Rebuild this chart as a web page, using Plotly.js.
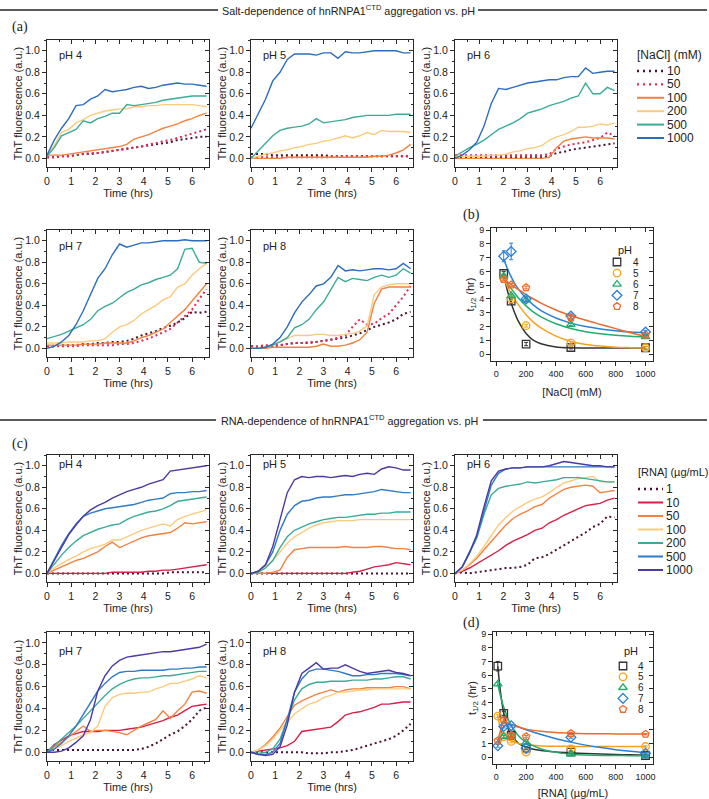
<!DOCTYPE html>
<html><head><meta charset="utf-8">
<script src="https://cdn.plot.ly/plotly-3.0.1.min.js"></script>
<style>html,body{margin:0;padding:0;background:#fff}</style>
</head><body><div id="chart" style="width:709px;height:799px"></div>
<script>
// ---------------- DATA ----------------
const T = [0,0.3,0.6,0.9,1.2,1.5,1.8,2.1,2.4,2.7,3.0,3.3,3.6,3.9,4.2,4.5,4.8,5.1,5.4,5.7,6.0,6.3,6.6];
const naclLevels = ['10','50','100','200','500','1000'];
const rnaLevels = ['1','10','50','100','200','500','1000'];
const phLevels = ['4','5','6','7','8'];

// salt series, order: 10, 50, 100, 200, 500, 1000 mM
const salt_pH4 = [
 [0.01,0.01,0.02,0.02,0.03,0.04,0.04,0.05,0.06,0.07,0.08,0.09,0.10,0.11,0.12,0.13,0.14,0.15,0.17,0.18,0.19,0.20,0.20],
 [0.01,0.01,0.02,0.02,0.03,0.04,0.05,0.05,0.06,0.07,0.08,0.09,0.10,0.11,0.13,0.14,0.16,0.17,0.19,0.21,0.23,0.25,0.27],
 [0.03,0.03,0.03,0.04,0.05,0.06,0.07,0.08,0.09,0.10,0.11,0.13,0.18,0.20,0.22,0.25,0.28,0.30,0.32,0.35,0.37,0.40,0.42],
 [0.02,0.12,0.24,0.27,0.33,0.36,0.40,0.42,0.44,0.45,0.46,0.46,0.48,0.48,0.49,0.49,0.50,0.50,0.50,0.50,0.50,0.49,0.48],
 [0.02,0.10,0.21,0.24,0.27,0.35,0.33,0.37,0.39,0.42,0.42,0.50,0.49,0.50,0.51,0.52,0.54,0.55,0.56,0.57,0.58,0.58,0.58],
 [0.03,0.17,0.28,0.37,0.49,0.50,0.55,0.58,0.64,0.62,0.63,0.64,0.66,0.67,0.65,0.66,0.68,0.69,0.70,0.69,0.69,0.68,0.67]];
const salt_pH5 = [
 [0.04,0.04,0.04,0.03,0.03,0.03,0.03,0.03,0.03,0.03,0.03,0.02,0.02,0.02,0.02,0.02,0.02,0.02,0.02,0.02,0.02,0.02,0.02],
 [0.01,0.01,0.01,0.01,0.01,0.01,0.01,0.01,0.01,0.01,0.01,0.01,0.02,0.02,0.02,0.02,0.02,0.02,0.02,0.02,0.02,0.02,0.02],
 [0.0,0.0,0.0,0.0,0.0,0.01,0.01,0.01,0.01,0.01,0.01,0.01,0.01,0.01,0.01,0.01,0.01,0.02,0.02,0.03,0.05,0.08,0.13],
 [0.0,0.02,0.04,0.05,0.07,0.08,0.10,0.11,0.13,0.14,0.16,0.17,0.19,0.21,0.19,0.21,0.24,0.22,0.26,0.25,0.25,0.25,0.24],
 [0.0,0.07,0.14,0.21,0.26,0.28,0.29,0.30,0.32,0.37,0.33,0.34,0.35,0.36,0.38,0.39,0.40,0.40,0.40,0.40,0.41,0.41,0.41],
 [0.28,0.42,0.55,0.72,0.80,0.92,0.97,0.97,0.97,0.96,0.98,0.98,0.93,0.99,0.98,0.98,0.99,1.0,1.0,1.0,1.0,0.98,0.98]];
const salt_pH6 = [
 [0.01,0.01,0.01,0.01,0.01,0.01,0.01,0.01,0.01,0.01,0.01,0.01,0.01,0.02,0.05,0.06,0.08,0.09,0.10,0.11,0.12,0.13,0.14],
 [0.03,0.03,0.03,0.03,0.03,0.03,0.03,0.03,0.03,0.03,0.03,0.03,0.03,0.04,0.09,0.11,0.13,0.14,0.15,0.17,0.19,0.24,0.21],
 [0.0,0.0,0.0,0.0,0.0,0.0,0.0,0.0,0.0,0.0,0.0,0.0,0.0,0.01,0.10,0.16,0.18,0.19,0.20,0.19,0.19,0.19,0.18],
 [0.02,0.02,0.02,0.02,0.02,0.03,0.03,0.04,0.06,0.07,0.09,0.10,0.12,0.17,0.20,0.22,0.25,0.29,0.29,0.30,0.32,0.31,0.33],
 [0.02,0.06,0.10,0.13,0.17,0.22,0.27,0.30,0.33,0.37,0.42,0.44,0.46,0.49,0.51,0.53,0.56,0.58,0.70,0.60,0.60,0.66,0.63],
 [0.0,0.03,0.08,0.15,0.30,0.51,0.65,0.64,0.66,0.68,0.70,0.71,0.72,0.73,0.73,0.75,0.76,0.76,0.84,0.79,0.80,0.81,0.81]];
const salt_pH7 = [
 [0.02,0.02,0.03,0.03,0.03,0.04,0.04,0.05,0.05,0.06,0.06,0.07,0.09,0.12,0.14,0.16,0.19,0.21,0.24,0.28,0.34,0.33,0.34],
 [0.02,0.02,0.02,0.02,0.02,0.03,0.03,0.03,0.03,0.03,0.04,0.04,0.05,0.07,0.09,0.12,0.15,0.18,0.24,0.30,0.36,0.46,0.55],
 [0.03,0.03,0.03,0.03,0.03,0.04,0.04,0.04,0.05,0.05,0.05,0.05,0.07,0.10,0.12,0.15,0.18,0.24,0.30,0.36,0.44,0.52,0.60],
 [0.05,0.05,0.05,0.06,0.06,0.06,0.07,0.07,0.09,0.15,0.20,0.22,0.26,0.32,0.36,0.40,0.45,0.48,0.57,0.60,0.68,0.74,0.79],
 [0.09,0.11,0.13,0.16,0.19,0.22,0.27,0.35,0.39,0.42,0.47,0.52,0.55,0.59,0.61,0.64,0.66,0.68,0.74,0.92,0.93,0.80,0.79],
 [0.0,0.02,0.06,0.12,0.22,0.35,0.50,0.65,0.74,0.87,0.97,0.94,0.96,0.98,0.98,0.99,1.0,1.0,1.0,1.01,1.0,1.0,1.0]];
const salt_pH8 = [
 [0.02,0.01,0.02,0.02,0.03,0.04,0.05,0.05,0.05,0.06,0.07,0.08,0.09,0.10,0.12,0.14,0.17,0.20,0.22,0.24,0.27,0.32,0.34],
 [0.02,0.02,0.03,0.03,0.03,0.04,0.05,0.05,0.06,0.06,0.07,0.08,0.10,0.12,0.20,0.27,0.22,0.23,0.28,0.32,0.40,0.48,0.58],
 [0.0,0.0,0.0,0.01,0.01,0.01,0.01,0.01,0.01,0.02,0.04,0.02,0.02,0.03,0.05,0.08,0.15,0.42,0.55,0.57,0.57,0.57,0.57],
 [0.0,0.0,0.01,0.03,0.06,0.09,0.12,0.12,0.12,0.13,0.13,0.12,0.12,0.13,0.14,0.16,0.21,0.50,0.57,0.59,0.60,0.60,0.60],
 [0.0,0.0,0.01,0.03,0.06,0.10,0.19,0.22,0.27,0.36,0.43,0.55,0.66,0.62,0.65,0.64,0.63,0.66,0.68,0.66,0.68,0.74,0.70],
 [0.0,0.0,0.01,0.04,0.10,0.20,0.33,0.43,0.50,0.58,0.60,0.66,0.77,0.72,0.73,0.72,0.73,0.74,0.74,0.73,0.74,0.79,0.74]];

// RNA series, order: 1, 10, 50, 100, 200, 500, 1000 ug/mL
const rna_pH4 = [
 [0.0,0.0,0.0,0.0,0.0,0.0,0.0,0.0,0.0,0.0,0.0,0.0,0.0,0.0,0.0,0.0,0.0,0.01,0.01,0.01,0.01,0.01,0.01],
 [0.0,0.0,0.0,0.0,0.0,0.0,0.0,0.0,0.0,0.01,0.01,0.01,0.01,0.01,0.02,0.02,0.03,0.03,0.04,0.05,0.06,0.07,0.08],
 [0.0,0.03,0.06,0.09,0.12,0.14,0.17,0.20,0.25,0.29,0.24,0.27,0.30,0.33,0.35,0.36,0.37,0.38,0.42,0.47,0.46,0.47,0.48],
 [0.0,0.05,0.09,0.13,0.16,0.20,0.23,0.25,0.27,0.31,0.31,0.34,0.37,0.40,0.42,0.44,0.46,0.44,0.50,0.53,0.55,0.57,0.59],
 [0.0,0.09,0.17,0.24,0.30,0.35,0.38,0.41,0.43,0.45,0.46,0.50,0.53,0.55,0.57,0.58,0.60,0.63,0.67,0.68,0.69,0.70,0.71],
 [0.0,0.13,0.26,0.37,0.46,0.53,0.56,0.58,0.60,0.61,0.62,0.63,0.64,0.66,0.68,0.69,0.70,0.74,0.75,0.75,0.76,0.76,0.77],
 [0.0,0.12,0.25,0.36,0.45,0.53,0.59,0.63,0.66,0.70,0.73,0.76,0.78,0.80,0.83,0.85,0.87,0.95,0.96,0.97,0.98,0.99,1.0]];
const rna_pH5 = [
 [0.0,0.0,0.0,0.0,0.0,0.0,0.0,0.0,0.0,0.0,0.0,0.0,0.0,0.0,0.0,0.0,0.0,0.0,0.0,0.0,0.0,0.0,0.0],
 [0.0,0.0,0.0,0.0,0.0,0.0,0.0,0.0,0.0,0.0,0.0,0.0,0.0,0.0,0.01,0.02,0.04,0.06,0.07,0.08,0.10,0.09,0.08],
 [0.0,0.0,0.0,0.01,0.03,0.15,0.22,0.23,0.24,0.24,0.24,0.24,0.24,0.25,0.24,0.24,0.24,0.25,0.25,0.24,0.23,0.23,0.22],
 [0.0,0.02,0.06,0.12,0.20,0.28,0.34,0.38,0.42,0.45,0.47,0.48,0.49,0.49,0.49,0.50,0.50,0.50,0.50,0.50,0.50,0.50,0.50],
 [0.0,0.01,0.05,0.12,0.24,0.34,0.40,0.43,0.46,0.48,0.50,0.51,0.52,0.52,0.53,0.54,0.55,0.55,0.56,0.56,0.57,0.57,0.57],
 [0.0,0.02,0.08,0.20,0.40,0.55,0.63,0.67,0.68,0.70,0.71,0.71,0.72,0.73,0.73,0.74,0.75,0.76,0.78,0.77,0.76,0.75,0.75],
 [0.0,0.02,0.08,0.25,0.50,0.75,0.87,0.90,0.89,0.90,0.90,0.89,0.90,0.91,0.90,0.92,0.93,0.92,0.97,0.99,0.98,0.96,0.96]];
const rna_pH6 = [
 [0.0,0.01,0.0,0.01,0.02,0.03,0.04,0.05,0.05,0.06,0.08,0.14,0.15,0.18,0.22,0.26,0.30,0.34,0.38,0.43,0.46,0.53,0.52],
 [0.0,0.02,0.05,0.09,0.13,0.17,0.21,0.26,0.30,0.33,0.36,0.40,0.42,0.47,0.50,0.54,0.57,0.60,0.63,0.64,0.65,0.68,0.70],
 [0.0,0.03,0.08,0.14,0.22,0.30,0.38,0.45,0.51,0.55,0.58,0.62,0.64,0.70,0.74,0.78,0.80,0.81,0.82,0.81,0.75,0.76,0.77],
 [0.0,0.03,0.09,0.16,0.25,0.35,0.45,0.52,0.58,0.62,0.66,0.69,0.71,0.75,0.80,0.84,0.86,0.88,0.89,0.90,0.85,0.85,0.85],
 [0.0,0.06,0.19,0.33,0.55,0.73,0.79,0.81,0.82,0.83,0.85,0.84,0.85,0.86,0.87,0.89,0.89,0.89,0.88,0.87,0.86,0.85,0.85],
 [0.0,0.06,0.20,0.34,0.58,0.82,0.93,0.97,0.98,0.98,0.99,0.99,0.99,0.99,0.99,0.99,0.99,0.99,0.99,0.99,0.99,0.99,0.99],
 [0.0,0.06,0.19,0.36,0.62,0.86,0.95,0.97,0.98,0.98,0.99,0.99,0.99,1.0,1.02,1.04,1.03,1.02,1.01,1.0,1.0,0.99,0.99]];
const rna_pH7 = [
 [0.02,0.02,0.02,0.02,0.02,0.02,0.02,0.02,0.02,0.02,0.02,0.02,0.02,0.03,0.05,0.08,0.12,0.16,0.19,0.24,0.30,0.38,0.41],
 [0.0,0.07,0.11,0.15,0.17,0.19,0.19,0.19,0.20,0.20,0.20,0.21,0.22,0.23,0.25,0.27,0.29,0.32,0.34,0.38,0.42,0.43,0.44],
 [0.0,0.05,0.09,0.14,0.19,0.24,0.19,0.20,0.20,0.19,0.18,0.16,0.20,0.24,0.27,0.30,0.38,0.31,0.38,0.44,0.55,0.56,0.54],
 [0.0,0.03,0.06,0.10,0.13,0.16,0.18,0.24,0.42,0.50,0.53,0.54,0.54,0.55,0.55,0.58,0.60,0.63,0.63,0.65,0.67,0.70,0.68],
 [0.0,0.06,0.12,0.18,0.24,0.31,0.38,0.46,0.52,0.58,0.62,0.65,0.67,0.68,0.68,0.69,0.70,0.70,0.71,0.72,0.73,0.74,0.74],
 [0.0,0.03,0.08,0.15,0.24,0.35,0.45,0.56,0.63,0.69,0.73,0.74,0.74,0.75,0.75,0.75,0.75,0.76,0.76,0.77,0.77,0.78,0.78],
 [0.0,0.0,0.01,0.04,0.09,0.15,0.30,0.56,0.70,0.79,0.84,0.87,0.88,0.89,0.90,0.91,0.92,0.92,0.93,0.94,0.95,0.96,0.99]];
const rna_pH8 = [
 [0.0,0.0,0.0,0.0,0.0,0.0,0.0,0.0,-0.01,-0.01,-0.01,0.0,0.0,0.01,0.02,0.04,0.06,0.08,0.10,0.12,0.15,0.20,0.26],
 [0.0,0.01,0.02,0.03,0.04,0.06,0.10,0.19,0.20,0.21,0.22,0.23,0.28,0.34,0.36,0.37,0.39,0.41,0.44,0.44,0.45,0.46,0.46],
 [0.0,0.02,0.07,0.14,0.22,0.33,0.43,0.47,0.50,0.53,0.55,0.57,0.55,0.57,0.58,0.58,0.59,0.59,0.59,0.59,0.60,0.60,0.58],
 [0.0,0.02,0.06,0.12,0.20,0.28,0.35,0.40,0.44,0.46,0.50,0.52,0.55,0.55,0.56,0.57,0.57,0.58,0.58,0.58,0.58,0.58,0.58],
 [0.0,-0.01,0.0,0.03,0.12,0.30,0.48,0.58,0.62,0.64,0.64,0.65,0.65,0.65,0.66,0.66,0.66,0.67,0.67,0.68,0.69,0.69,0.67],
 [0.0,-0.02,-0.02,0.0,0.08,0.30,0.55,0.67,0.74,0.76,0.76,0.75,0.74,0.72,0.70,0.70,0.71,0.71,0.72,0.72,0.72,0.71,0.70],
 [0.0,-0.02,-0.03,-0.02,0.05,0.25,0.55,0.72,0.77,0.82,0.76,0.77,0.77,0.80,0.77,0.74,0.72,0.73,0.74,0.75,0.73,0.72,0.70]];

// (b) t1/2 vs NaCl
const bNaCl = [50,100,200,500,1000];
const b_pH4 = [5.85,3.85,0.73,0.48,0.46];
const b_pH5 = [5.50,4.00,2.06,0.82,0.46];
const b_pH6 = [5.67,4.24,3.92,2.15,1.26];
const b_pH7 = [7.10,7.45,4.00,2.76,1.60];
const b_pH8 = [5.42,5.02,4.83,2.64,1.40];
const b_err4 = [0.15,0.15,0.12,0.10,0.10];
const b_err5 = [0.10,0.10,0.10,0.08,0.08];
const b_err6 = [0.10,0.10,0.10,0.08,0.08];
const b_err7 = [0.40,0.60,0.15,0.15,0.12];
const b_err8 = [0.10,0.10,0.10,0.10,0.10];
const bFitX = [50,75,100,125,150,200,250,300,400,500,600,700,800,900,1000];
const bFit_pH4 = [5.75,4.60,3.70,2.95,2.35,1.50,1.00,0.75,0.52,0.46,0.45,0.44,0.44,0.44,0.44];
const bFit_pH5 = [5.50,4.90,4.40,3.95,3.55,2.85,2.30,1.90,1.30,0.92,0.70,0.58,0.50,0.47,0.45];
const bFit_pH6 = [5.60,5.15,4.75,4.40,4.05,3.50,3.05,2.70,2.20,1.86,1.62,1.47,1.37,1.30,1.25];
const bFit_pH7 = [6.90,6.20,5.60,5.10,4.70,4.05,3.55,3.15,2.62,2.25,2.00,1.83,1.70,1.61,1.55];
const bFit_pH8 = [5.45,5.25,5.05,4.85,4.68,4.32,4.00,3.70,3.20,2.80,2.45,2.15,1.85,1.55,1.28];

// (d) t1/2 vs RNA
const dRNA = [10,50,100,200,500,1000];
const d_pH4 = [6.65,3.20,1.60,0.66,0.37,0.12];
const d_pH5 = [3.00,1.50,1.15,0.37,0.60,0.78];
const d_pH6 = [5.35,1.50,1.55,1.07,0.24,0.10];
const d_pH7 = [0.83,2.24,2.30,0.66,1.46,0.29];
const d_pH8 = [1.20,2.70,1.60,1.50,1.73,1.68];
const d_err4 = [0.35,0.15,0.10,0.10,0.08,0.05];
const d_err = [0.10,0.10,0.10,0.08,0.08,0.05];
const dFitX = [10,30,50,75,100,150,200,300,400,500,600,700,800,900,1000];
const dFit_pH4 = [6.65,4.60,3.20,2.20,1.60,1.00,0.72,0.48,0.38,0.32,0.27,0.23,0.20,0.17,0.14];
const dFit_pH5 = [3.00,2.00,1.50,1.30,1.20,1.00,0.90,0.82,0.80,0.79,0.78,0.78,0.78,0.78,0.78];
const dFit_pH6 = [5.35,4.40,3.65,2.90,2.30,1.55,1.10,0.60,0.35,0.22,0.16,0.13,0.12,0.11,0.10];
const dFit_pH7 = [0.83,1.60,2.24,2.35,2.35,2.20,2.00,1.65,1.35,1.10,0.88,0.70,0.55,0.43,0.33];
const dFit_pH8 = [1.20,2.00,2.70,2.50,2.40,2.20,2.05,1.90,1.80,1.75,1.72,1.71,1.70,1.70,1.70];

// ---------------- STYLE / LAYOUT ----------------
const W = 709, H = 799;
const AX = '#2a2a2a';
const FONT = 'Liberation Sans, Arial, sans-serif';
const SERIF = 'Liberation Serif, Times New Roman, serif';
const naclColors = ['#4a1232','#e02b55','#f5813f','#fdca7c','#3bab97','#2b6dbf'];
const rnaColors = ['#4a1232','#d81e48','#f5813f','#fdca7c','#3bab97','#2f7bc6','#4b3aa5'];
const naclDotted = [true,true,false,false,false,false];
const rnaDotted = [true,false,false,false,false,false,false];
const phColors = ['#333333','#f5a21b','#20ad6c','#2a80d6','#eb6a2c'];
const phSymbols = ['square-open','circle-open','triangle-up-open','diamond-open','pentagon-open'];

const traces = [];
const layout = {
  width: W, height: H, margin: {l:0, r:0, t:0, b:0},
  paper_bgcolor: '#fff', plot_bgcolor: 'rgba(0,0,0,0)',
  showlegend: false, font: {family: FONT, color: '#222'},
  annotations: [], shapes: []
};

function axId(k) { return k === 1 ? '' : String(k); }
function P(x, y) { return {x: x / W, y: 1 - y / H}; }

function addAxes(k, box, xr, yr, xopt, yopt) {
  const id = axId(k), ov = String(k + 12);
  const dx = [box[0] / W, box[1] / W], dy = [1 - box[3] / H, 1 - box[2] / H];
  const common = {showline: true, mirror: true, linecolor: AX, linewidth: 1, ticks: 'outside', ticklen: 4,
    tickwidth: 1, tickcolor: AX, showgrid: false, zeroline: false, fixedrange: true, autorange: false};
  layout['xaxis' + id] = Object.assign({}, common, {domain: dx, anchor: 'y' + id, range: xr}, xopt);
  layout['yaxis' + id] = Object.assign({}, common, {domain: dy, anchor: 'x' + id, range: yr}, yopt);
  const topAx = {overlaying: 'x' + id, anchor: 'y' + id, side: 'top', range: xr, autorange: false,
    ticks: 'inside', ticklen: 4, tickcolor: AX, tickwidth: 1, dtick: xopt.dtick, tick0: 0,
    showticklabels: false, showline: false, showgrid: false, zeroline: false, fixedrange: true};
  if (xopt.minor) topAx.minor = Object.assign({}, xopt.minor, {ticks: 'inside'});
  const rightAx = {overlaying: 'y' + id, anchor: 'x' + id, side: 'right', range: yr, autorange: false,
    ticks: 'inside', ticklen: 4, tickcolor: AX, tickwidth: 1, dtick: yopt.dtick, tick0: 0,
    showticklabels: false, showline: false, showgrid: false, zeroline: false, fixedrange: true};
  if (yopt.minor) rightAx.minor = Object.assign({}, yopt.minor, {ticks: 'inside'});
  layout['xaxis' + ov] = topAx;
  layout['yaxis' + ov] = rightAx;
  traces.push({type: 'scatter', mode: 'lines', x: [], y: [], xaxis: 'x' + ov, yaxis: 'y' + id, hoverinfo: 'skip'});
  traces.push({type: 'scatter', mode: 'lines', x: [], y: [], xaxis: 'x' + id, yaxis: 'y' + ov, hoverinfo: 'skip'});
}

const timeX = {dtick: 1, tick0: 0, tickfont: {size: 10.5},
  minor: {dtick: 0.5, ticklen: 2, ticks: 'outside', tickcolor: AX},
  title: {text: 'Time (hrs)', font: {size: 11}, standoff: 3}};
const thtY = {dtick: 0.2, tick0: 0, tickformat: '.1f', tickfont: {size: 10.5},
  minor: {dtick: 0.1, ticklen: 2, ticks: 'outside', tickcolor: AX},
  title: {text: 'ThT fluorescence (a.u.)', font: {size: 11}, standoff: 0}};

const COLS = [[47,209],[251,413],[455,617]];
const panels = [
  {k:1, col:0, row:[40,167], data:salt_pH4, colors:naclColors, dotted:naclDotted, label:'pH 4', ly:0.96},
  {k:2, col:1, row:[40,167], data:salt_pH5, colors:naclColors, dotted:naclDotted, label:'pH 5', ly:0.96},
  {k:3, col:2, row:[40,167], data:salt_pH6, colors:naclColors, dotted:naclDotted, label:'pH 6', ly:0.96},
  {k:4, col:0, row:[230,357], data:salt_pH7, colors:naclColors, dotted:naclDotted, label:'pH 7', ly:0.95},
  {k:5, col:1, row:[230,357], data:salt_pH8, colors:naclColors, dotted:naclDotted, label:'pH 8', ly:0.95},
  {k:7, col:0, row:[455,582], data:rna_pH4, colors:rnaColors, dotted:rnaDotted, label:'pH 4', ly:1.02},
  {k:8, col:1, row:[455,582], data:rna_pH5, colors:rnaColors, dotted:rnaDotted, label:'pH 5', ly:1.02},
  {k:9, col:2, row:[455,582], data:rna_pH6, colors:rnaColors, dotted:rnaDotted, label:'pH 6', ly:1.02},
  {k:10, col:0, row:[632,761], data:rna_pH7, colors:rnaColors, dotted:rnaDotted, label:'pH 7', ly:0.93},
  {k:11, col:1, row:[632,761], data:rna_pH8, colors:rnaColors, dotted:rnaDotted, label:'pH 8', ly:0.93}
];

panels.forEach(p => {
  const box = [COLS[p.col][0], COLS[p.col][1], p.row[0], p.row[1]];
  addAxes(p.k, box, [0, 6.7], [-0.08, 1.1], timeX, thtY);
  const id = axId(p.k);
  p.data.forEach((ys, i) => {
    traces.push({type: 'scatter', mode: 'lines', x: T, y: ys, xaxis: 'x' + id, yaxis: 'y' + id,
      line: {color: p.colors[i], width: p.dotted[i] ? 2 : 1.4, dash: p.dotted[i] ? '2px,3px' : 'solid'},
      hoverinfo: 'skip'});
  });
  layout.annotations.push({xref: 'x' + id, yref: 'y' + id, x: 0.4, y: p.ly, xanchor: 'left', yanchor: 'middle',
    text: p.label, showarrow: false, font: {size: 11, color: '#222'}});
});

// t1/2 panels
function addThalf(k, box, xr, xdata, ys, errs, fitX, fits, xtitle) {
  addAxes(k, box, xr, [-0.5, 9.15],
    {dtick: 200, tick0: 0, tickfont: {size: 9}, minor: {dtick: 100, ticklen: 2, ticks: 'outside', tickcolor: AX},
     title: {text: xtitle, font: {size: 11}, standoff: 10}},
    {dtick: 1, tick0: 0, tickfont: {size: 9}, title: {text: 't<sub>1/2</sub> (hr)', font: {size: 11}, standoff: 2}});
  const id = axId(k);
  fits.forEach((f, i) => {
    traces.push({type: 'scatter', mode: 'lines', x: fitX, y: f, xaxis: 'x' + id, yaxis: 'y' + id,
      line: {color: phColors[i], width: 1.5, shape: 'spline', smoothing: 0.8}, hoverinfo: 'skip'});
  });
  ys.forEach((y, i) => {
    traces.push({type: 'scatter', mode: 'markers', x: xdata, y: y, xaxis: 'x' + id, yaxis: 'y' + id,
      marker: {symbol: phSymbols[i], size: 7.5, color: phColors[i], line: {width: 1.3, color: phColors[i]}},
      error_y: {type: 'data', array: errs[i], color: phColors[i], thickness: 1, width: 2},
      cliponaxis: false, hoverinfo: 'skip'});
  });
}
addThalf(6, [491,653,228,361], [-35, 1050], bNaCl, [b_pH4,b_pH5,b_pH6,b_pH7,b_pH8],
  [b_err4,b_err5,b_err6,b_err7,b_err8], bFitX, [bFit_pH4,bFit_pH5,bFit_pH6,bFit_pH7,bFit_pH8], '[NaCl] (mM)');
addThalf(12, [493,653,632,764], [-22, 1050], dRNA, [d_pH4,d_pH5,d_pH6,d_pH7,d_pH8],
  [d_err4,d_err,d_err,d_err,d_err], dFitX, [dFit_pH4,dFit_pH5,dFit_pH6,dFit_pH7,dFit_pH8], '[RNA] (µg/mL)');

// pixel layer for legend samples
layout.xaxis25 = {domain: [0,1], range: [0, W], autorange: false, visible: false, fixedrange: true, anchor: 'y25'};
layout.yaxis25 = {domain: [0,1], range: [H, 0], autorange: false, visible: false, fixedrange: true, anchor: 'x25'};

function ann(x, y, text, opt) {
  const p = P(x, y);
  layout.annotations.push(Object.assign({xref: 'paper', yref: 'paper', x: p.x, y: p.y, text: text,
    showarrow: false, xanchor: 'left', yanchor: 'middle', font: {size: 12, color: '#222'}}, opt || {}));
}

// line legends
function lineLegend(levels, colors, dotted, title, titleSize, x0, x1, ty, y0, dy) {
  ann(x0 - 2, ty, title, {font: {size: titleSize, color: '#222'}});
  levels.forEach((lv, i) => {
    const yy = y0 + dy * i;
    traces.push({type: 'scatter', mode: 'lines', x: [x0, x1], y: [yy, yy], xaxis: 'x25', yaxis: 'y25',
      line: {color: colors[i], width: dotted[i] ? 2.4 : 2, dash: dotted[i] ? '2px,4px' : 'solid'}, hoverinfo: 'skip'});
    ann(x1 + 1, yy, lv);
  });
}
lineLegend(naclLevels, naclColors, naclDotted, '[NaCl] (mM)', 12, 637, 664, 55, 71, 13.4);
lineLegend(rnaLevels, rnaColors, rnaDotted, '[RNA] (µg/mL)', 11, 638, 663, 472, 489, 13.5);

// marker legends
function markerLegend(mx, lx, ty, y0, dy) {
  ann(mx + 8, ty, 'pH', {xanchor: 'center', font: {size: 11, color: '#222'}});
  phLevels.forEach((lv, i) => {
    const yy = y0 + dy * i;
    traces.push({type: 'scatter', mode: 'markers', x: [mx], y: [yy], xaxis: 'x25', yaxis: 'y25',
      marker: {symbol: phSymbols[i], size: 7.5, color: phColors[i], line: {width: 1.3, color: phColors[i]}},
      cliponaxis: false, hoverinfo: 'skip'});
    ann(lx, yy, lv, {xanchor: 'center', font: {size: 10, color: '#222'}});
  });
}
markerLegend(617, 636, 250, 262, 11.1);
markerLegend(623, 641, 651, 666, 10.8);

// section headers
function header(text, y, lx1, rx0) {
  ann((lx1 + rx0) / 2, y, text, {xanchor: 'center', font: {size: 10.8, family: FONT, color: '#222'}});
  [[0, lx1], [rx0, 707]].forEach(s => {
    const a = P(s[0], y), b = P(s[1], y);
    layout.shapes.push({type: 'line', xref: 'paper', yref: 'paper', x0: a.x, x1: b.x, y0: a.y, y1: b.y,
      line: {color: '#222', width: 1.5}});
  });
}
header('Salt-dependence of hnRNPA1<sup>CTD</sup> aggregation vs. pH', 10, 218, 478);
header('RNA-dependence of hnRNPA1<sup>CTD</sup> aggregation vs. pH', 420, 216, 483);

// panel letters
const serifFont = {size: 14, family: SERIF, color: '#222'};
ann(20, 27, '(a)', {xanchor: 'center', font: serifFont});
ann(471, 215, '(b)', {xanchor: 'center', font: serifFont});
ann(20, 444, '(c)', {xanchor: 'center', font: serifFont});
ann(471, 623, '(d)', {xanchor: 'center', font: serifFont});

Plotly.newPlot('chart', traces, layout, {staticPlot: true, displayModeBar: false});
</script></body></html>
